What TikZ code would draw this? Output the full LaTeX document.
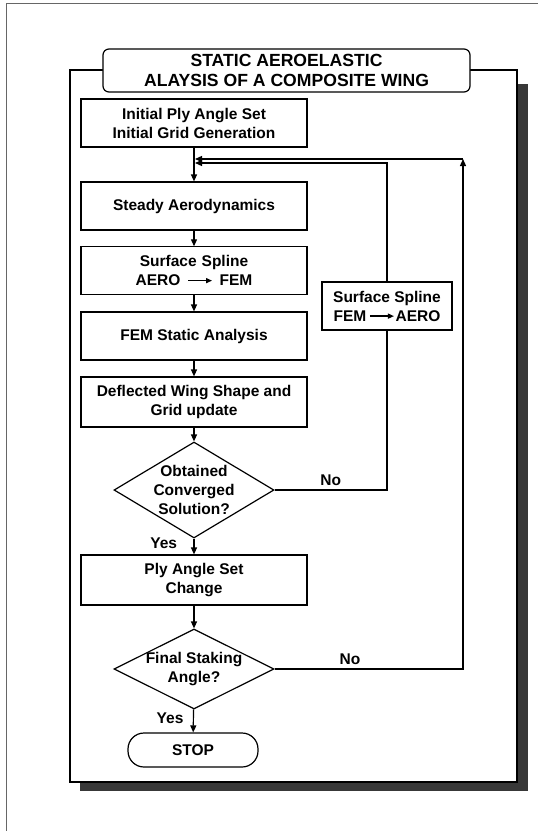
\documentclass[tikz,border=0pt]{standalone}
\usepackage{fontspec}
\setmainfont{Liberation Sans}
\usetikzlibrary{shapes.geometric, arrows.meta}

\newcommand{\toarrow}{\tikz[baseline=-0.6ex]\draw[line width=1.3bp,-{Triangle[length=6bp,width=5bp]}] (0,0) -- (24bp,0);}

\begin{document}
\begin{tikzpicture}[
    x=1bp, y=-1bp,
    line width=1.2bp,
    every node/.style={font=\bfseries\fontsize{15.5bp}{19bp}\selectfont, align=center},
    procbox/.style={draw, fill=white, minimum width=226bp, minimum height=48bp, inner sep=1bp},
    decision/.style={draw, diamond, inner sep=0pt},
    arr/.style={-{Triangle[length=7bp, width=6bp]}}
]
\useasboundingbox (0,0) rectangle (538,831);
% scanned page edge
\draw[black!60, line width=1bp] (6,831) -- (6,3) -- (538,3);
% frame with its shadow
\fill[black!78] (517,84) rectangle (528,791);
\fill[black!78] (80,782) rectangle (528,791);
\draw[fill=white] (70,70) rectangle (517,782);
\node[draw, fill=white, rounded corners=6bp, minimum width=367bp, minimum height=43bp,
    font=\bfseries\fontsize{17.6bp}{20.5bp}\selectfont] (title) at (286.5,70.5)
    {STATIC AEROELASTIC\\ALAYSIS OF A COMPOSITE WING};

% main chain
\node[procbox] (init) at (194,123) {Initial Ply Angle Set\\Initial Grid Generation};
\node[procbox] (steady) at (194,206) {Steady Aerodynamics};
\node[procbox] (aerofem) at (194,270.5) {Surface\hspace{5bp}Spline\\AERO\hspace{7bp}\toarrow\hspace{7bp}FEM};
\node[procbox] (femstat) at (194,336) {FEM Static Analysis};
\node[procbox, minimum height=50bp] (deflect) at (194,402) {Deflected Wing Shape and\\Grid update};
\node[decision, minimum width=160bp, minimum height=96bp,
    label={[align=center]center:Obtained\\Converged\\Solution?}] (conv) at (194,490) {};
\node[procbox, minimum height=50bp] (plyset) at (194,580) {Ply Angle Set\\Change};
\node[decision, minimum width=160bp, minimum height=80bp,
    label={[align=center]center:Final Staking\\Angle?}] (final) at (194,669) {};
\node[draw, rounded corners=16bp, minimum width=130bp, minimum height=34bp] (stop) at (193,750) {STOP};

% feedback
\node[draw, minimum width=130bp, minimum height=48bp, inner sep=1bp] (femaero) at (387,306)
    {Surface Spline\\FEM\hspace{3bp}\toarrow\hspace{1bp}AERO};
\coordinate (jin) at (195,163);
\coordinate (jout) at (195,159);
\coordinate (cornr) at (463,159);

\draw[arr] (init) -- (steady);
\draw[arr] (steady) -- (aerofem);
\draw[arr] (aerofem) -- (femstat);
\draw[arr] (femstat) -- (deflect);
\draw[arr] (deflect) -- (conv);
\draw[arr] (conv) -- node[left=13bp, pos=0.3] {Yes} (plyset);
\draw[arr] (plyset) -- (final);
\draw[arr] (final) -- node[left=6bp, pos=0.4] {Yes} (stop);
\draw (conv.east) -| node[above, pos=0.25] {No} (femaero.south);
\draw[arr] (femaero.north) |- (jin);
\draw[arr] (final.east) -| node[above, pos=0.2] {No} (cornr);
\draw[arr] (cornr) -- (jout);
\end{tikzpicture}
\end{document}
